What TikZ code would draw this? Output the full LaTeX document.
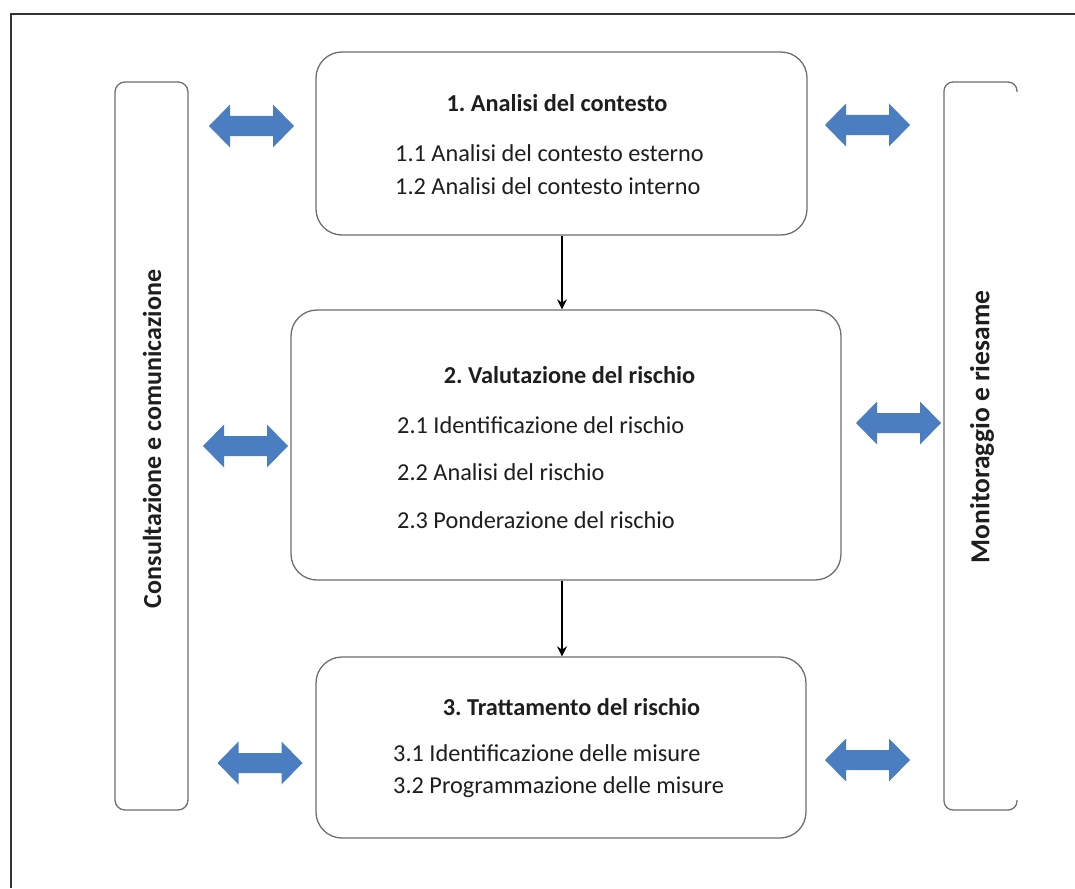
\documentclass[tikz,border=0pt]{standalone}
\usepackage{fontspec}
\setmainfont{Carlito}
\frenchspacing
\usetikzlibrary{arrows.meta}
\definecolor{arrowblue}{HTML}{4A7EC0}
\definecolor{boxgray}{HTML}{6E6E6E}
\definecolor{inkgray}{HTML}{1E1E1E}
\tikzset{
  x=1pt, y=-1pt,
  mainbox/.style={draw=boxgray, line width=1.3pt, rounded corners=26pt, inner sep=0pt},
  sidebox/.style={draw=boxgray, line width=1.3pt, rounded corners=10pt, inner sep=0pt},
  title/.style={font=\fontsize{24.3}{28}\selectfont\bfseries, text=inkgray, inner sep=0pt},
  item/.style={font=\fontsize{24.3}{28}\selectfont, text=inkgray, inner sep=0pt, anchor=west},
  sidetext/.style={font=\fontsize{26}{28}\selectfont\bfseries, text=inkgray, inner sep=0pt, rotate=90},
  sidetextb/.style={font=\fontsize{27.5}{30}\selectfont\bfseries, text=inkgray, inner sep=0pt, rotate=90},
  flow/.style={-{Stealth[length=10pt,width=10pt]}, line width=2.2pt, black},
  blockarrow/.style={fill=arrowblue, draw=none}
}
\newcommand\dblarrow[2]{%
  \fill[blockarrow] (#1-42.5,#2) -- (#1-21.5,#2-21.5) -- (#1-21.5,#2-10) -- (#1+21.5,#2-10)
    -- (#1+21.5,#2-21.5) -- (#1+42.5,#2) -- (#1+21.5,#2+21.5) -- (#1+21.5,#2+10)
    -- (#1-21.5,#2+10) -- (#1-21.5,#2+21.5) -- cycle;}
\begin{document}
\begin{tikzpicture}
\useasboundingbox (0,0) rectangle (1075,888);
\fill[white] (0,0) rectangle (1075,888);
% outer frame (partly cut off)
\draw[line width=1.5pt, black!80] (11,888) -- (11,14) -- (1075,14);

% side panels
\node[sidebox, minimum width=73pt, minimum height=728pt] (left) at (151.5,446) {};
\node[sidetext] (lefttext) at (152,439) {Consultazione e comunicazione};
\draw[boxgray, line width=1.3pt, rounded corners=9pt] (1017,92) -- (1017,82) -- (944,82) -- (944,810) -- (1017,810) -- (1017,800);
\node[sidetextb] (righttext) at (982,427) {Monitoraggio e riesame};

% main boxes
\node[mainbox, minimum width=491pt, minimum height=183pt] (b1) at (561.5,143.5) {};
\node[mainbox, minimum width=550pt, minimum height=270pt] (b2) at (566,445) {};
\node[mainbox, minimum width=490pt, minimum height=181pt] (b3) at (561,747.5) {};

% texts
\node[title] (t1) at (557,103) {1. Analisi del contesto};
\node[item] (t11) at (395,153) {1.1 Analisi del contesto esterno};
\node[item] (t12) at (395,186) {1.2 Analisi del contesto interno};

\node[title] (t2) at (569.5,375) {2. Valutazione del rischio};
\node[item] (t21) at (397,425) {2.1 Identificazione del rischio};
\node[item] (t22) at (397,472) {2.2 Analisi del rischio};
\node[item] (t23) at (397,520) {2.3 Ponderazione del rischio};

\node[title] (t3) at (571.5,707) {3. Trattamento del rischio};
\node[item] (t31) at (393,753) {3.1 Identificazione delle misure};
\node[item] (t32) at (393,787) {3.2 Programmazione delle misure};

% flow arrows
\draw[flow] (b1.south -| 562,0) -- (b2.north -| 562,0);
\draw[flow] (b2.south -| 562,0) -- (b3.north -| 562,0);

% block arrows
\dblarrow{251.5}{126}
\dblarrow{867.5}{125}
\dblarrow{245.5}{446}
\dblarrow{898.5}{423}
\dblarrow{260}{763}
\dblarrow{867.5}{760}
\end{tikzpicture}
\end{document}
